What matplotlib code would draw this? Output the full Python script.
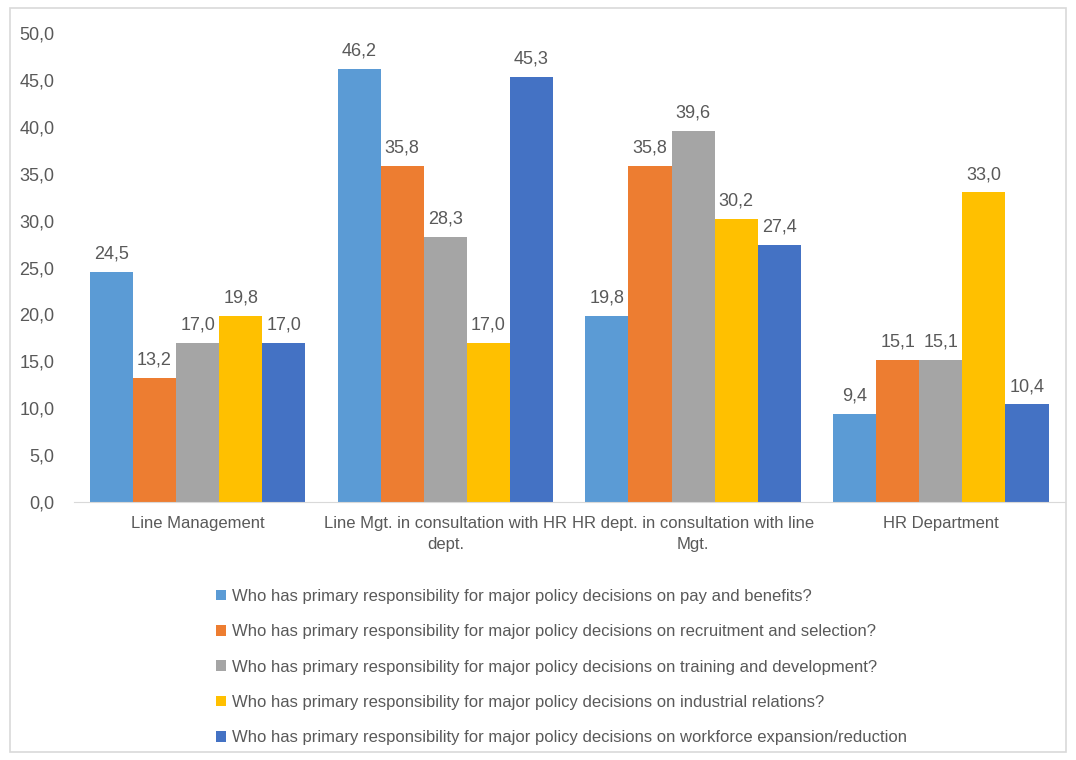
import numpy as np
import matplotlib
matplotlib.use("Agg")
import matplotlib.pyplot as plt
from matplotlib.patches import Rectangle

plt.rcParams['font.family'] = ['Liberation Sans', 'DejaVu Sans']

categories = [
    "Line Management",
    "Line Mgt. in consultation with HR\ndept.",
    "HR dept. in consultation with line\nMgt.",
    "HR Department",
]
series_names = [
    "Who has primary responsibility for major policy decisions on pay and benefits?",
    "Who has primary responsibility for major policy decisions on recruitment and selection?",
    "Who has primary responsibility for major policy decisions on training and development?",
    "Who has primary responsibility for major policy decisions on industrial relations?",
    "Who has primary responsibility for major policy decisions on workforce expansion/reduction",
]
pay = [24.5, 46.2, 19.8, 9.4]
recruitment = [13.2, 35.8, 35.8, 15.1]
training = [17.0, 28.3, 39.6, 15.1]
industrial = [19.8, 17.0, 30.2, 33.0]
workforce = [17.0, 45.3, 27.4, 10.4]
series = [pay, recruitment, training, industrial, workforce]
colors = ["#5B9BD5", "#ED7D31", "#A5A5A5", "#FFC000", "#4472C4"]

TEXT = "#595959"

fig = plt.figure(figsize=(10.76, 7.6), dpi=100)
ax = fig.add_axes([0.0685, 0.3395, 0.921, 0.617])

x = np.arange(len(categories))
n = len(series)
group_w = 0.87
bw = group_w / n
for i, (vals, name, c) in enumerate(zip(series, series_names, colors)):
    pos = x - group_w / 2 + bw * (i + 0.5)
    bars = ax.bar(pos, vals, width=bw, color=c, label=name, zorder=2)
    for b, v in zip(bars, vals):
        ax.text(b.get_x() + b.get_width() / 2, v + 1.0, f"{v:.1f}".replace(".", ","),
                ha="center", va="bottom", fontsize=13, color=TEXT)

ax.set_xlim(-0.5, len(categories) - 0.5)
ax.set_ylim(0, 50)
ax.set_yticks(np.arange(0, 51, 5))
ax.set_yticklabels([f"{v:.1f}".replace(".", ",") for v in np.arange(0, 51, 5)])
ax.set_xticks(x)
ax.set_xticklabels(categories, fontsize=12, linespacing=1.55)
ax.tick_params(axis="both", length=0, colors=TEXT)
ax.tick_params(axis="y", pad=14, labelsize=13)
ax.tick_params(axis="x", pad=10)
for s in ["top", "right", "left"]:
    ax.spines[s].set_visible(False)
ax.spines["bottom"].set_color("#D9D9D9")

fig.legend(loc="upper left", bbox_to_anchor=(0.193, 0.236), frameon=False,
           fontsize=12, labelcolor=TEXT, handlelength=0.6, handleheight=0.6,
           handletextpad=0.35, labelspacing=1.22, borderpad=0)

fig.patches.append(Rectangle((0.009, 0.01), 0.982, 0.98, transform=fig.transFigure,
                             fill=False, edgecolor="#D9D9D9", linewidth=1.2))

fig.savefig("out.png", dpi=100)
